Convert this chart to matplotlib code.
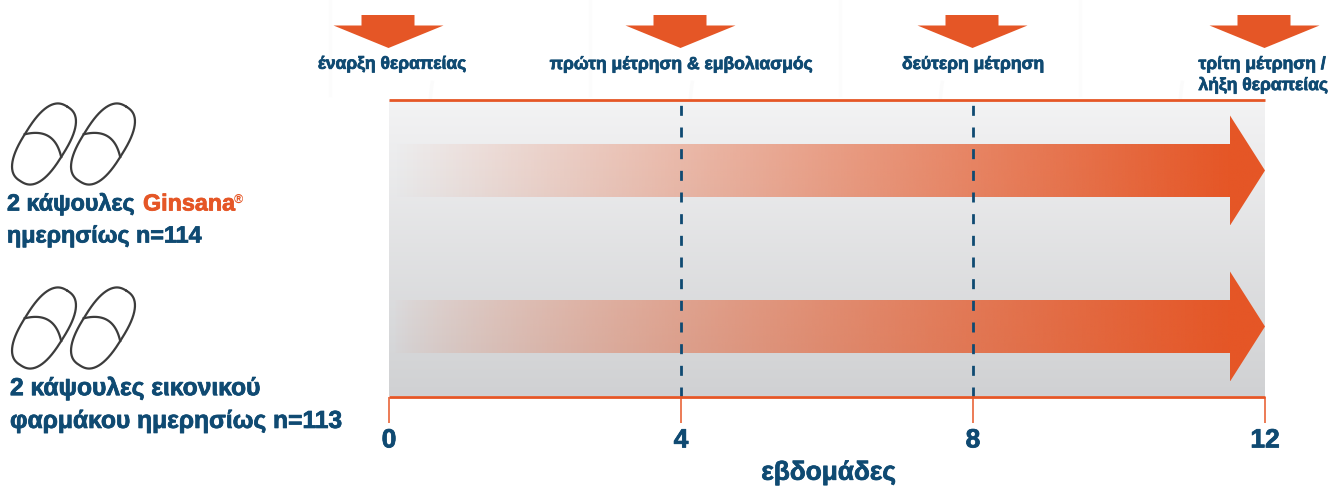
import numpy as np
import matplotlib
matplotlib.use("Agg")
import matplotlib.pyplot as plt
import matplotlib.patheffects as pe
from matplotlib.colors import LinearSegmentedColormap, to_rgb
from matplotlib.patches import Polygon

W, H = 1338, 486
FONT = "Liberation Sans"
NAVY = "#0f4a72"
ORANGE = "#e55626"

week_ticks = [0, 4, 8, 12]
dashed_weeks = [4, 8]
timeline_weeks = [0, 4, 8, 12]
timeline_labels = ["έναρξη θεραπείας", "πρώτη μέτρηση & εμβολιασμός", "δεύτερη μέτρηση", "τρίτη μέτρηση /\nλήξη θεραπείας"]
xlabel = "εβδομάδες"
arrow_starts = [0.05, 0.05]
arrow_ends = [12, 12]

fig = plt.figure(figsize=(W / 100, H / 100), dpi=100, facecolor="white")
heavy = [pe.withStroke(linewidth=0.55, foreground=NAVY)]

L, R, T, B = 389.0, 1265.0, 100.5, 396.5
ax = fig.add_axes([L / W, 1 - B / H, (R - L) / W, (B - T) / H])
ax.set_xlim(0, 12)
ax.set_ylim(B, T)
px = 12 / (R - L)

bg = LinearSegmentedColormap.from_list("bg", ["#f3f3f4", "#d0d1d3"])
ax.imshow(np.linspace(0, 1, 256)[:, None], extent=[0, 12, B, T], aspect="auto", cmap=bg, zorder=0)

centers = [170.5, 326.5]
half_band = 26.5
half_head = 55
head_len = 35 * px
for c, s, e, gamma in zip(centers, arrow_starts, arrow_ends, [1.0, 0.8]):
    g = np.linspace(0, 1, 512)
    alpha = np.clip(g / 0.955, 0, 1) ** gamma
    img = np.zeros((1, 512, 4))
    img[..., :3] = to_rgb(ORANGE)
    img[..., 3] = alpha
    im = ax.imshow(img, extent=[s, e, c + half_head, c - half_head], aspect="auto", zorder=1, interpolation="bilinear")
    poly = Polygon([(s, c - half_band), (e - head_len, c - half_band), (e - head_len, c - half_head),
                    (e, c), (e - head_len, c + half_head), (e - head_len, c + half_band), (s, c + half_band)],
                   closed=True, transform=ax.transData, fc="none", ec="none")
    ax.add_patch(poly)
    im.set_clip_path(poly)
ax.set_xlim(0, 12)
ax.set_ylim(B, T)

for w in dashed_weeks:
    ax.axvline(w, color=NAVY, lw=2.0, dashes=(3.6, 4.2), zorder=2)

for s in ["left", "right"]:
    ax.spines[s].set_visible(False)
for s in ["top", "bottom"]:
    ax.spines[s].set_color(ORANGE)
    ax.spines[s].set_linewidth(2.0)
    ax.spines[s].set_capstyle("butt")
ax.set_yticks([])
ax.set_xticks(week_ticks)
ax.set_xticklabels([str(w) for w in week_ticks], fontsize=19, fontweight="bold", color=NAVY, family=FONT, path_effects=heavy)
ax.tick_params(axis="x", length=19, width=1.3, color="#ea7148", pad=4)
ax.set_xlabel(xlabel, fontsize=18.9, fontweight="bold", color=NAVY, family=FONT, labelpad=6, path_effects=heavy)
ax.xaxis.label.set_x(0.502)

ov = fig.add_axes([0, 0, 1, 1], facecolor="none")
ov.set_xlim(0, W)
ov.set_ylim(H, 0)
ov.axis("off")
ov.set_zorder(-1)
ax.set_zorder(1)
ax.patch.set_alpha(0)
top = fig.add_axes([0, 0, 1, 1], facecolor="none")
top.set_xlim(0, W)
top.set_ylim(H, 0)
top.axis("off")
top.set_zorder(2)

# faint watermark
for cx in [500, 760, 1010, 1250]:
    t = np.linspace(2.6, 3.4, 40)
    ov.plot(cx + 70 * np.cos(t), 110 + 120 * np.sin(t) * 0.9, color="#fbfbfb", lw=2.5)
    ov.plot([cx - 170, cx - 170], [0, 95], color="#fcfcfc", lw=2.5)

label_x = [392, 681, 973, 1264]
tfs = 12.6
for w, lx, lab in zip(timeline_weeks, label_x, timeline_labels):
    x0 = L + w * (R - L) / 12 - 0.5
    top.add_patch(Polygon([(x0 - 27, 15), (x0 + 26, 15), (x0 + 26, 25.5), (x0 + 55, 25.5), (x0, 48),
                           (x0 - 55, 25.5), (x0 - 27, 25.5)], closed=True, fc=ORANGE, ec="none"))
    if "\n" in lab:
        l1, l2 = lab.split("\n")
        top.text(1198.5, 64.5, l1, ha="left", va="center", fontsize=tfs, fontweight="bold", color=NAVY, family=FONT, path_effects=heavy)
        top.text(1198.5, 85.5, l2, ha="left", va="center", fontsize=tfs, fontweight="bold", color=NAVY, family=FONT, path_effects=heavy)
    else:
        top.text(lx, 64.5, lab, ha="center", va="center", fontsize=tfs, fontweight="bold", color=NAVY, family=FONT, path_effects=heavy)

def capsule(cx, cy):
    ang = np.deg2rad(-58)
    a, b = 44, 21.5
    t = np.linspace(0, 2 * np.pi, 200)
    n = 2.6
    u = a * np.sign(np.cos(t)) * np.abs(np.cos(t)) ** (2 / n)
    v = b * np.sign(np.sin(t)) * np.abs(np.sin(t)) ** (2 / n)
    x = cx + u * np.cos(ang) - v * np.sin(ang)
    y = cy + u * np.sin(ang) + v * np.cos(ang)
    top.plot(x, y, color="#3c3c3c", lw=1.6, solid_capstyle="round")
    s = np.linspace(-1, 1, 40)
    v2 = b * s
    u2 = -2 + 11 * (1 - s ** 2)
    x2 = cx + u2 * np.cos(ang) - v2 * np.sin(ang)
    y2 = cy + u2 * np.sin(ang) + v2 * np.cos(ang)
    top.plot(x2, y2, color="#3c3c3c", lw=1.6)

for cy in [144, 328]:
    capsule(44, cy)
    capsule(103, cy)

fig.canvas.draw()
r = fig.canvas.get_renderer()
fs = 16.8
fs2 = 17.7
kw = dict(fontweight="bold", family=FONT, va="center", ha="left")
t1 = top.text(7, 204, "2 κάψουλες", fontsize=fs, color=NAVY, path_effects=heavy, **kw)
x1 = t1.get_window_extent(r).x1 + 8
t2 = top.text(x1, 204, "Ginsana", fontsize=fs, color=ORANGE,
              path_effects=[pe.withStroke(linewidth=0.55, foreground=ORANGE)], **kw)
x2 = t2.get_window_extent(r).x1
top.text(x2 - 1, 200, "®", fontsize=9, fontweight="bold", color=ORANGE, family=FONT, va="center", ha="left")
top.text(7, 236, "ημερησίως n=114", fontsize=fs, color=NAVY, path_effects=heavy, **kw)
top.text(10, 388, "2 κάψουλες εικονικού", fontsize=fs2, color=NAVY, path_effects=heavy, **kw)
top.text(10, 421, "φαρμάκου ημερησίως n=113", fontsize=fs2, color=NAVY, path_effects=heavy, **kw)

fig.savefig("out.png", dpi=100, facecolor="white")
